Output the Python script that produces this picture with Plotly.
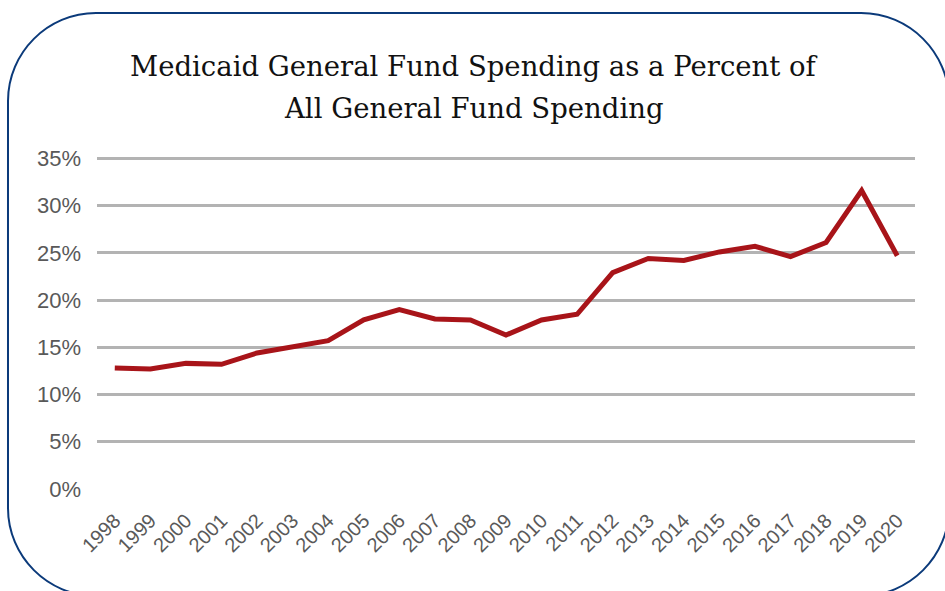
import plotly.graph_objects as go

years = [str(y) for y in range(1998, 2021)]
pct = [12.8, 12.7, 13.3, 13.2, 14.4, 15.0, 15.7, 17.9, 19.0, 18.0, 17.9, 16.3,
       17.9, 18.5, 22.9, 24.4, 24.2, 25.1, 25.7, 24.6, 26.1, 31.6, 24.7]
y_ticks = [0, 5, 10, 15, 20, 25, 30, 35]
y_labels = [f"{v}%" for v in y_ticks]
title_lines = ["Medicaid General Fund Spending as a Percent of",
               "All General Fund Spending"]

W, H = 945, 591
L, R, T, B = 97, 915, 158, 489
YMAX = 35.15

fig = go.Figure()
fig.add_trace(go.Scatter(x=years, y=pct, mode="lines",
                         line=dict(color="#a81419", width=5),
                         hoverinfo="skip"))

top_px = round(B - (B - T) * YMAX / 35.0)  # plot area top in pixels


def px(x):
    return (x - L) / (R - L)


def py(y):
    return (B - y) / (B - top_px)


# rounded border
x0, y0, x1, y1, r = 8, 13, 949, 596, 88
k = 0.45
path = (f"M {px(x0+r)},{py(y0)} L {px(x1-r)},{py(y0)} "
        f"C {px(x1-r*k)},{py(y0)} {px(x1)},{py(y0+r*k)} {px(x1)},{py(y0+r)} "
        f"L {px(x1)},{py(y1-r)} "
        f"C {px(x1)},{py(y1-r*k)} {px(x1-r*k)},{py(y1)} {px(x1-r)},{py(y1)} "
        f"L {px(x0+r)},{py(y1)} "
        f"C {px(x0+r*k)},{py(y1)} {px(x0)},{py(y1-r*k)} {px(x0)},{py(y1-r)} "
        f"L {px(x0)},{py(y0+r)} "
        f"C {px(x0)},{py(y0+r*k)} {px(x0+r*k)},{py(y0)} {px(x0+r)},{py(y0)} Z")
fig.add_shape(type="path", path=path, xref="paper", yref="paper",
              line=dict(color="#0b3a7a", width=2), layer="below")

for line, yc in zip(title_lines, [66, 108]):
    fig.add_annotation(text=line, xref="paper", yref="paper",
                       x=px(474), y=py(yc), xanchor="center", yanchor="middle",
                       showarrow=False,
                       font=dict(family="DejaVu Serif, serif", size=27.5, color="#111111"))

fig.update_layout(
    width=W, height=H,
    margin=dict(l=L, r=W - R, t=top_px, b=H - B, pad=0),
    paper_bgcolor="white", plot_bgcolor="white",
    showlegend=False,
    xaxis=dict(type="category", range=[-0.5, 22.5], showgrid=False,
               showline=False, zeroline=False, tickangle=-45,
               tickfont=dict(family="Liberation Sans, Arial", size=20, color="#595959"),
               ticks="", ticklabelstandoff=15),
    yaxis=dict(range=[0, YMAX], tickvals=y_ticks, ticktext=y_labels,
               showgrid=True, gridcolor="#b3b3b3", gridwidth=3,
               zeroline=False, showline=False, ticks="",
               ticklabelstandoff=15,
               tickfont=dict(family="Liberation Sans, Arial", size=22, color="#595959")),
)
fig.write_html("out.html", config={"displayModeBar": False},
               post_script="document.body.style.margin='0';")
